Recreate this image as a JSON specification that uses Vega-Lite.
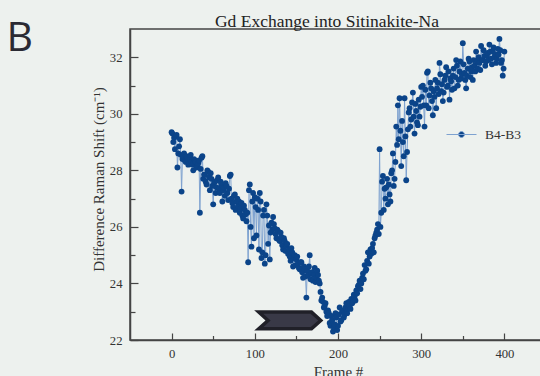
{
  "$schema": "https://vega.github.io/schema/vega-lite/v6.json",
  "width": 416,
  "height": 311,
  "autosize": {"type": "none"},
  "padding": {"left": 130, "top": 29, "right": 0, "bottom": 36},
  "background": "#edf1ee",
  "title": {"text": "Gd Exchange into Sitinakite-Na", "font": "Liberation Serif", "fontSize": 17.5, "fontWeight": "normal", "color": "#222222", "anchor": "middle", "dx": -11, "dy": 17.5, "offset": 5},
  "config": {"view": {"stroke": "#444444", "strokeWidth": 1.5}},
  "datasets": {
    "series": [
      {"frame":0,"shift":29.35},{"frame":1,"shift":29.3},{"frame":2,"shift":29.0},{"frame":3,"shift":29.15},{"frame":4,"shift":28.75},
      {"frame":5,"shift":29.2},{"frame":6,"shift":29.25},{"frame":7,"shift":28.1},{"frame":8,"shift":28.6},{"frame":9,"shift":28.85},
      {"frame":10,"shift":29.1},{"frame":11,"shift":28.55},{"frame":12,"shift":27.25},{"frame":13,"shift":28.4},{"frame":14,"shift":28.5},
      {"frame":15,"shift":28.6},{"frame":16,"shift":28.35},{"frame":17,"shift":28.3},{"frame":18,"shift":28.5},{"frame":19,"shift":28.45},
      {"frame":20,"shift":28.2},{"frame":21,"shift":28.25},{"frame":22,"shift":28.4},{"frame":23,"shift":28.55},{"frame":24,"shift":28.3},
      {"frame":25,"shift":28.2},{"frame":26,"shift":28.0},{"frame":27,"shift":28.4},{"frame":28,"shift":28.35},{"frame":29,"shift":28.3},
      {"frame":30,"shift":28.1},{"frame":31,"shift":28.15},{"frame":32,"shift":28.25},{"frame":33,"shift":28.35},{"frame":34,"shift":26.5},
      {"frame":35,"shift":28.05},{"frame":36,"shift":28.45},{"frame":37,"shift":28.5},{"frame":38,"shift":27.7},{"frame":39,"shift":27.85},
      {"frame":40,"shift":27.85},{"frame":41,"shift":27.6},{"frame":42,"shift":27.5},{"frame":43,"shift":28.0},{"frame":44,"shift":27.95},
      {"frame":45,"shift":27.75},{"frame":46,"shift":27.3},{"frame":47,"shift":27.9},{"frame":48,"shift":27.7},{"frame":49,"shift":27.45},
      {"frame":50,"shift":26.8},{"frame":51,"shift":27.55},{"frame":52,"shift":27.6},{"frame":53,"shift":27.2},{"frame":54,"shift":27.4},
      {"frame":55,"shift":27.65},{"frame":56,"shift":27.75},{"frame":57,"shift":27.35},{"frame":58,"shift":27.2},{"frame":59,"shift":27.6},
      {"frame":60,"shift":27.5},{"frame":61,"shift":26.9},{"frame":62,"shift":27.3},{"frame":63,"shift":27.4},{"frame":64,"shift":27.1},
      {"frame":65,"shift":27.55},{"frame":66,"shift":27.45},{"frame":67,"shift":27.2},{"frame":68,"shift":26.95},{"frame":69,"shift":27.35},
      {"frame":70,"shift":27.8},{"frame":71,"shift":27.85},{"frame":72,"shift":27.0},{"frame":73,"shift":26.85},{"frame":74,"shift":26.7},
      {"frame":75,"shift":27.1},{"frame":76,"shift":27.15},{"frame":77,"shift":26.6},{"frame":78,"shift":26.9},{"frame":79,"shift":27.0},
      {"frame":80,"shift":26.75},{"frame":81,"shift":26.9},{"frame":82,"shift":26.5},{"frame":83,"shift":26.65},{"frame":84,"shift":26.85},
      {"frame":85,"shift":26.4},{"frame":86,"shift":26.3},{"frame":87,"shift":26.75},{"frame":88,"shift":26.6},{"frame":89,"shift":26.45},
      {"frame":90,"shift":26.2},{"frame":91,"shift":26.5},{"frame":92,"shift":24.75},{"frame":93,"shift":27.3},{"frame":94,"shift":27.5},
      {"frame":95,"shift":26.0},{"frame":96,"shift":25.3},{"frame":97,"shift":26.9},{"frame":98,"shift":27.2},{"frame":99,"shift":25.6},
      {"frame":100,"shift":27.05},{"frame":101,"shift":26.7},{"frame":102,"shift":25.7},{"frame":103,"shift":27.0},{"frame":104,"shift":26.6},
      {"frame":105,"shift":25.2},{"frame":106,"shift":27.2},{"frame":107,"shift":26.9},{"frame":108,"shift":24.9},{"frame":109,"shift":25.1},
      {"frame":110,"shift":26.4},{"frame":111,"shift":26.6},{"frame":112,"shift":24.7},{"frame":113,"shift":25.0},{"frame":114,"shift":26.8},
      {"frame":115,"shift":26.4},{"frame":116,"shift":25.4},{"frame":117,"shift":26.05},{"frame":118,"shift":24.85},{"frame":119,"shift":25.8},
      {"frame":120,"shift":26.15},{"frame":121,"shift":25.9},{"frame":122,"shift":26.35},{"frame":123,"shift":26.1},{"frame":124,"shift":25.95},
      {"frame":125,"shift":25.75},{"frame":126,"shift":25.6},{"frame":127,"shift":25.9},{"frame":128,"shift":25.85},{"frame":129,"shift":25.55},
      {"frame":130,"shift":25.5},{"frame":131,"shift":25.8},{"frame":132,"shift":25.65},{"frame":133,"shift":25.35},{"frame":134,"shift":25.2},
      {"frame":135,"shift":25.6},{"frame":136,"shift":25.5},{"frame":137,"shift":25.15},{"frame":138,"shift":25.35},{"frame":139,"shift":25.4},
      {"frame":140,"shift":25.05},{"frame":141,"shift":25.2},{"frame":142,"shift":24.95},{"frame":143,"shift":24.8},{"frame":144,"shift":25.25},
      {"frame":145,"shift":25.1},{"frame":146,"shift":24.6},{"frame":147,"shift":24.9},{"frame":148,"shift":25.0},{"frame":149,"shift":24.65},
      {"frame":150,"shift":24.85},{"frame":151,"shift":24.95},{"frame":152,"shift":24.7},{"frame":153,"shift":24.55},{"frame":154,"shift":24.5},
      {"frame":155,"shift":24.75},{"frame":156,"shift":24.75},{"frame":157,"shift":24.4},{"frame":158,"shift":24.2},{"frame":159,"shift":24.6},
      {"frame":160,"shift":24.5},{"frame":161,"shift":24.25},{"frame":162,"shift":23.5},{"frame":163,"shift":24.45},{"frame":164,"shift":24.3},
      {"frame":165,"shift":24.6},{"frame":166,"shift":25.0},{"frame":167,"shift":24.15},{"frame":168,"shift":24.35},{"frame":169,"shift":24.4},
      {"frame":170,"shift":24.1},{"frame":171,"shift":24.3},{"frame":172,"shift":24.55},{"frame":173,"shift":24.05},{"frame":174,"shift":24.2},
      {"frame":175,"shift":24.45},{"frame":176,"shift":24.3},{"frame":177,"shift":24.1},{"frame":178,"shift":24.0},{"frame":179,"shift":23.7},
      {"frame":180,"shift":23.4},{"frame":181,"shift":23.5},{"frame":182,"shift":23.35},{"frame":183,"shift":23.15},{"frame":184,"shift":23.2},
      {"frame":185,"shift":23.3},{"frame":186,"shift":23.0},{"frame":187,"shift":22.85},{"frame":188,"shift":23.05},{"frame":189,"shift":22.95},
      {"frame":190,"shift":22.6},{"frame":191,"shift":22.5},{"frame":192,"shift":22.85},{"frame":193,"shift":22.7},{"frame":194,"shift":22.3},
      {"frame":195,"shift":22.45},{"frame":196,"shift":22.55},{"frame":197,"shift":22.95},{"frame":198,"shift":22.8},{"frame":199,"shift":22.35},
      {"frame":200,"shift":22.5},{"frame":201,"shift":22.9},{"frame":202,"shift":23.15},{"frame":203,"shift":22.65},{"frame":204,"shift":22.7},
      {"frame":205,"shift":23.0},{"frame":206,"shift":23.05},{"frame":207,"shift":22.8},{"frame":208,"shift":22.9},{"frame":209,"shift":23.15},
      {"frame":210,"shift":23.3},{"frame":211,"shift":22.95},{"frame":212,"shift":23.1},{"frame":213,"shift":23.35},{"frame":214,"shift":23.2},
      {"frame":215,"shift":23.1},{"frame":216,"shift":23.45},{"frame":217,"shift":23.3},{"frame":218,"shift":23.35},{"frame":219,"shift":23.6},
      {"frame":220,"shift":23.55},{"frame":221,"shift":23.4},{"frame":222,"shift":23.75},{"frame":223,"shift":23.65},{"frame":224,"shift":23.9},
      {"frame":225,"shift":23.95},{"frame":226,"shift":24.1},{"frame":227,"shift":23.8},{"frame":228,"shift":24.0},{"frame":229,"shift":24.2},
      {"frame":230,"shift":24.35},{"frame":231,"shift":24.15},{"frame":232,"shift":24.65},{"frame":233,"shift":24.45},{"frame":234,"shift":24.5},
      {"frame":235,"shift":24.8},{"frame":236,"shift":25.1},{"frame":237,"shift":24.7},{"frame":238,"shift":24.95},{"frame":239,"shift":25.2},
      {"frame":240,"shift":25.05},{"frame":241,"shift":25.25},{"frame":242,"shift":25.4},{"frame":243,"shift":25.1},{"frame":244,"shift":25.6},
      {"frame":245,"shift":25.7},{"frame":246,"shift":25.8},{"frame":247,"shift":25.9},{"frame":248,"shift":26.1},{"frame":249,"shift":25.75},
      {"frame":250,"shift":28.75},{"frame":251,"shift":26.0},{"frame":252,"shift":26.5},{"frame":253,"shift":27.6},{"frame":254,"shift":27.8},
      {"frame":255,"shift":26.6},{"frame":256,"shift":27.35},{"frame":257,"shift":27.0},{"frame":258,"shift":27.4},{"frame":259,"shift":27.7},
      {"frame":260,"shift":26.8},{"frame":261,"shift":27.5},{"frame":262,"shift":27.15},{"frame":263,"shift":26.9},{"frame":264,"shift":27.9},
      {"frame":265,"shift":28.0},{"frame":266,"shift":28.6},{"frame":267,"shift":27.45},{"frame":268,"shift":27.7},{"frame":269,"shift":28.3},
      {"frame":270,"shift":29.55},{"frame":271,"shift":28.9},{"frame":272,"shift":30.3},{"frame":273,"shift":29.1},{"frame":274,"shift":30.55},
      {"frame":275,"shift":29.4},{"frame":276,"shift":28.15},{"frame":277,"shift":29.75},{"frame":278,"shift":29.0},{"frame":279,"shift":28.5},
      {"frame":280,"shift":30.55},{"frame":281,"shift":29.2},{"frame":282,"shift":27.65},{"frame":283,"shift":28.65},{"frame":284,"shift":29.45},
      {"frame":285,"shift":30.05},{"frame":286,"shift":30.2},{"frame":287,"shift":29.55},{"frame":288,"shift":29.8},{"frame":289,"shift":30.4},
      {"frame":290,"shift":30.75},{"frame":291,"shift":29.9},{"frame":292,"shift":29.3},{"frame":293,"shift":30.35},{"frame":294,"shift":30.1},
      {"frame":295,"shift":29.7},{"frame":296,"shift":29.6},{"frame":297,"shift":30.5},{"frame":298,"shift":29.9},{"frame":299,"shift":30.25},
      {"frame":300,"shift":30.95},{"frame":301,"shift":30.6},{"frame":302,"shift":31.0},{"frame":303,"shift":30.3},{"frame":304,"shift":29.55},
      {"frame":305,"shift":30.85},{"frame":306,"shift":30.3},{"frame":307,"shift":31.45},{"frame":308,"shift":31.5},{"frame":309,"shift":30.2},
      {"frame":310,"shift":30.65},{"frame":311,"shift":31.1},{"frame":312,"shift":30.9},{"frame":313,"shift":30.45},{"frame":314,"shift":29.95},
      {"frame":315,"shift":30.8},{"frame":316,"shift":30.6},{"frame":317,"shift":31.2},{"frame":318,"shift":30.2},{"frame":319,"shift":30.9},
      {"frame":320,"shift":31.1},{"frame":321,"shift":30.7},{"frame":322,"shift":31.8},{"frame":323,"shift":31.4},{"frame":324,"shift":30.8},
      {"frame":325,"shift":31.05},{"frame":326,"shift":30.45},{"frame":327,"shift":30.75},{"frame":328,"shift":31.2},{"frame":329,"shift":31.35},
      {"frame":330,"shift":31.65},{"frame":331,"shift":30.95},{"frame":332,"shift":31.0},{"frame":333,"shift":31.5},{"frame":334,"shift":30.5},
      {"frame":335,"shift":31.25},{"frame":336,"shift":31.15},{"frame":337,"shift":30.85},{"frame":338,"shift":31.35},{"frame":339,"shift":31.6},
      {"frame":340,"shift":30.9},{"frame":341,"shift":31.3},{"frame":342,"shift":31.9},{"frame":343,"shift":31.7},{"frame":344,"shift":31.0},
      {"frame":345,"shift":31.2},{"frame":346,"shift":31.5},{"frame":347,"shift":31.85},{"frame":348,"shift":31.25},{"frame":349,"shift":31.4},
      {"frame":350,"shift":32.5},{"frame":351,"shift":31.75},{"frame":352,"shift":31.45},{"frame":353,"shift":31.2},{"frame":354,"shift":30.9},
      {"frame":355,"shift":31.35},{"frame":356,"shift":31.6},{"frame":357,"shift":31.95},{"frame":358,"shift":31.85},{"frame":359,"shift":31.3},
      {"frame":360,"shift":31.5},{"frame":361,"shift":31.65},{"frame":362,"shift":31.2},{"frame":363,"shift":31.9},{"frame":364,"shift":31.7},
      {"frame":365,"shift":31.5},{"frame":366,"shift":32.2},{"frame":367,"shift":31.85},{"frame":368,"shift":31.6},{"frame":369,"shift":32.0},
      {"frame":370,"shift":31.8},{"frame":371,"shift":31.55},{"frame":372,"shift":32.4},{"frame":373,"shift":31.9},{"frame":374,"shift":31.9},
      {"frame":375,"shift":32.25},{"frame":376,"shift":32.05},{"frame":377,"shift":31.7},{"frame":378,"shift":31.85},{"frame":379,"shift":32.05},
      {"frame":380,"shift":32.15},{"frame":381,"shift":31.9},{"frame":382,"shift":32.45},{"frame":383,"shift":32.2},{"frame":384,"shift":31.95},
      {"frame":385,"shift":31.75},{"frame":386,"shift":32.2},{"frame":387,"shift":32.35},{"frame":388,"shift":32.0},{"frame":389,"shift":32.1},
      {"frame":390,"shift":31.8},{"frame":391,"shift":31.95},{"frame":392,"shift":32.3},{"frame":393,"shift":32.1},{"frame":394,"shift":32.65},
      {"frame":395,"shift":32.25},{"frame":396,"shift":31.8},{"frame":397,"shift":31.9},{"frame":398,"shift":31.35},{"frame":399,"shift":31.6},
      {"frame":400,"shift":32.2}
    ],
    "arrow": [{"frame": 142, "shift": 22.69}]
  },
  "resolve": {"axis": {"x": "independent", "y": "independent"}},
  "layer": [
    {
      "data": {"name": "series"},
      "mark": {"type": "line", "strokeWidth": 1, "interpolate": "linear"},
      "encoding": {
        "x": {"field": "frame", "type": "quantitative", "scale": {"domain": [-50, 450], "nice": false, "zero": false},
          "axis": {"orient": "bottom", "values": [0,50,100,150,200,250,300,350,400],
            "labelExpr": "datum.value % 100 == 0 ? datum.label : ''",
            "tickSize": {"condition": {"test": "datum.value % 100 != 0", "value": -4.5}, "value": -7},
            "labelPadding": 14, "grid": false,
            "domainColor": "#444444", "domainWidth": 1.5, "tickColor": "#444444", "tickWidth": 1.2,
            "labelFont": "Liberation Serif", "labelFontSize": 12.7, "labelColor": "#333333",
            "title": "Frame #", "titleFont": "Liberation Serif", "titleFontSize": 15, "titleFontWeight": "normal", "titleColor": "#333333", "titlePadding": 5}},
        "y": {"field": "shift", "type": "quantitative", "scale": {"domain": [22, 33], "nice": false, "zero": false},
          "axis": {"orient": "left", "values": [22,23,24,25,26,27,28,29,30,31,32],
            "labelExpr": "datum.value % 2 == 0 ? datum.label : ''",
            "tickSize": {"condition": {"test": "datum.value % 2 == 1", "value": -5}, "value": -8},
            "labelPadding": 16, "grid": false,
            "domainColor": "#444444", "domainWidth": 1.5, "tickColor": "#444444", "tickWidth": 1.2,
            "labelFont": "Liberation Serif", "labelFontSize": 12.7, "labelColor": "#333333",
            "title": "Difference Raman Shift (cm⁻¹)", "titleFont": "Liberation Serif", "titleFontSize": 15, "titleFontWeight": "normal", "titleColor": "#333333",
            "titleX": -24, "titleY": 150}},
        "color": {"datum": "B4-B3", "type": "nominal", "scale": {"range": ["#7ea2d0"]},
          "legend": {"orient": "none", "legendX": 316, "legendY": 90, "title": null, "padding": 0,
            "symbolType": "M-1,0L1,0M0.2,0A0.2,0.2,0,1,1,-0.2,0A0.2,0.2,0,1,1,0.2,0Z",
            "symbolSize": 900, "symbolStrokeWidth": 1, "labelOffset": 8,
            "labelFont": "Liberation Serif", "labelFontSize": 13.5, "labelColor": "#333333",
            "encode": {"symbols": {"update": {"fill": {"value": "#0b4489"}, "stroke": {"value": "#7ea2d0"}, "strokeWidth": {"value": 1}, "opacity": {"value": 1}}}}}}
      }
    },
    {
      "data": {"name": "series"},
      "mark": {"type": "circle", "size": 34, "color": "#0b4489", "opacity": 1},
      "encoding": {
        "x": {"field": "frame", "type": "quantitative", "axis": null},
        "y": {"field": "shift", "type": "quantitative", "axis": null}
      }
    },
    {
      "data": {"name": "arrow"},
      "mark": {"type": "point", "filled": true, "shape": "M-1,-0.27L0.7,-0.27L1,0L0.7,0.27L-1,0.27L-0.7,0Z", "size": 3844, "fill": "#393947", "stroke": "#202028", "strokeWidth": 3.5, "opacity": 1},
      "encoding": {
        "x": {"field": "frame", "type": "quantitative",
          "axis": {"orient": "top", "labels": false, "ticks": false, "domain": false, "grid": false,
            "title": "B", "titleX": -124, "titleY": 21.7, "titleAlign": "left", "titleBaseline": "alphabetic", "titleAngle": 0,
            "titleFont": "Open Sans", "titleFontSize": 41, "titleFontWeight": "normal", "titleColor": "#2a2a33"}},
        "y": {"field": "shift", "type": "quantitative", "axis": null}
      }
    }
  ]
}
